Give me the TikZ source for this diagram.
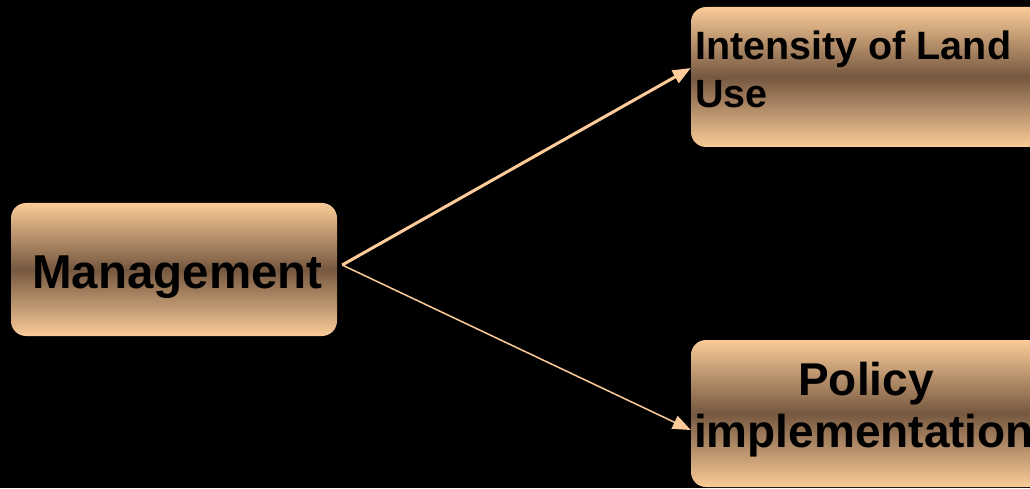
\documentclass[tikz,border=0pt]{standalone}
\usepackage{fontspec}
\setmainfont{Liberation Sans}
\usetikzlibrary{arrows.meta}
\definecolor{peach}{HTML}{FACB98}
\definecolor{brownmid}{HTML}{765840}
\definecolor{arrowc}{HTML}{FFCC99}
\tikzset{
  box/.style={rectangle, rounded corners=15pt, draw=none, inner sep=0pt,
    top color=peach, bottom color=peach, middle color=brownmid},
  lbl/.style={inner sep=0pt, text=black, font=\bfseries},
  link/.style={draw=arrowc, -{Triangle[length=18pt,width=14pt]}}
}
\begin{document}
\begin{tikzpicture}[x=1pt,y=1pt]
\fill[black] (0,0) rectangle (1030,488);
\useasboundingbox (0,0) rectangle (1030,488);
\clip (0,0) rectangle (1030,488);
% boxes
\node[box, minimum width=326pt, minimum height=133pt] (mgmt) at (174,218.5) {};
\node[box, minimum width=356pt, minimum height=140pt] (int) at (869,411) {};
\node[box, minimum width=352pt, minimum height=147pt] (pol) at (867,74.5) {};
% labels
\node[lbl, anchor=base, font=\bfseries\fontsize{47.5}{52}\selectfont] (mgmtt) at (177.5,200) {Management};
\node[lbl, anchor=base west, font=\bfseries\fontsize{39.5}{45}\selectfont] (intt1) at (695,428) {Intensity of Land};
\node[lbl, anchor=base west, font=\bfseries\fontsize{39.5}{45}\selectfont] (intt2) at (695,380) {Use};
\node[lbl, anchor=base, font=\bfseries\fontsize{46}{50}\selectfont] (polt1) at (866,93) {Policy};
\node[lbl, anchor=base, font=\bfseries\fontsize{46}{50}\selectfont] (polt2) at (864,41) {implementation};
% connectors
\coordinate (start) at ([xshift=5pt,yshift=4.5pt]mgmt.east);
\coordinate (end1) at ([yshift=9pt]int.west);
\coordinate (end2) at ([yshift=-16.5pt]pol.west);
\draw[link, line width=3pt] (start) -- (end1);
\draw[link, line width=1.5pt] (start) -- (end2);
\end{tikzpicture}
\end{document}
